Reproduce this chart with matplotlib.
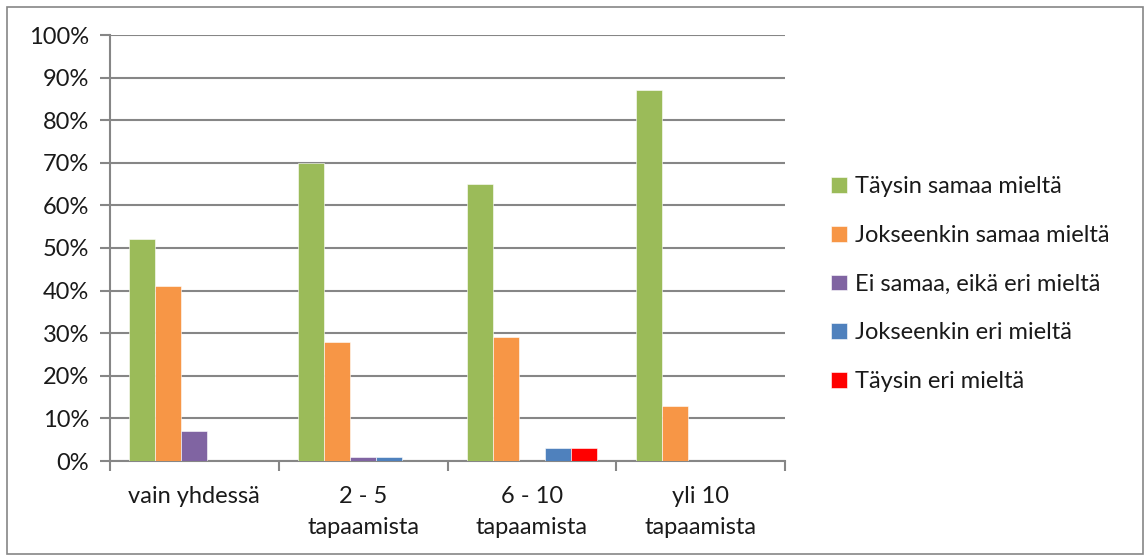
import matplotlib
matplotlib.use("Agg")
import matplotlib.pyplot as plt
from matplotlib.patches import Rectangle
import numpy as np

categories = ["vain yhdessä", "2 - 5\ntapaamista", "6 - 10\ntapaamista", "yli 10\ntapaamista"]
series_names = ["Täysin samaa mieltä", "Jokseenkin samaa mieltä",
                "Ei samaa, eikä eri mieltä", "Jokseenkin eri mieltä", "Täysin eri mieltä"]
taysin_samaa = [52, 70, 65, 87]
jokseenkin_samaa = [41, 28, 29, 13]
ei_samaa_eika_eri = [7, 1, 0, 0]
jokseenkin_eri = [0, 1, 3, 0]
taysin_eri = [0, 0, 3, 0]
colors = ["#9BBB59", "#F79646", "#8064A2", "#4F81BD", "#FF0000"]
y_ticks = list(range(0, 101, 10))

plt.rcParams["font.family"] = ["Lato", "DejaVu Sans"]
FS = 17

fig = plt.figure(figsize=(11.44, 5.55), dpi=100)
ax = fig.add_axes([110 / 1144, 1 - 461 / 555, 675 / 1144, 426 / 555])

values = [taysin_samaa, jokseenkin_samaa, ei_samaa_eika_eri, jokseenkin_eri, taysin_eri]
n = len(values)
w = 1 / 6.5
x = np.arange(len(categories))
handles = []
for i, (vals, c, name) in enumerate(zip(values, colors, series_names)):
    offs = (i - (n - 1) / 2) * w
    b = ax.bar(x + offs, vals, width=w, color=c, edgecolor="white", linewidth=0.4,
               label=name, zorder=3)
    handles.append(b)

ax.set_xlim(-0.5, len(categories) - 0.5)
ax.set_ylim(0, 100)
ax.set_yticks(y_ticks)
ax.set_yticklabels([f"{t}%" for t in y_ticks])
ax.yaxis.grid(True, color="#868686", linewidth=1.5, zorder=0)
ax.set_axisbelow(True)

for s in ["top", "right"]:
    ax.spines[s].set_visible(False)
for s in ["left", "bottom"]:
    ax.spines[s].set_color("#868686")
    ax.spines[s].set_linewidth(1.5)

ax.set_xticks(np.arange(-0.5, len(categories), 1.0))
ax.set_xticklabels([])
ax.set_xticks(x, minor=True)
ax.set_xticklabels(categories, minor=True, fontsize=FS, color="#1a1a1a", linespacing=1.6)
ax.tick_params(axis="x", which="major", length=7, width=1.5, color="#868686", direction="out")
ax.tick_params(axis="x", which="minor", length=0, pad=18)
ax.tick_params(axis="y", length=7, width=1.5, color="#868686", labelsize=FS,
               labelcolor="#1a1a1a", pad=8)

leg = fig.legend(handles=handles, labels=series_names, loc="upper left",
                 bbox_to_anchor=(822 / 1144, 1 - 167 / 555), frameon=False,
                 fontsize=FS, handlelength=0.65, handleheight=0.65,
                 handletextpad=0.35, labelspacing=1.17, borderaxespad=0)
for t in leg.get_texts():
    t.set_color("#1a1a1a")

fig.patches.append(Rectangle((7 / 1144, 1 / 555), 1136 / 1144, 547 / 555,
                             transform=fig.transFigure, fill=False,
                             edgecolor="#868686", linewidth=1.2))

fig.savefig("out.png", dpi=100, facecolor="white")
